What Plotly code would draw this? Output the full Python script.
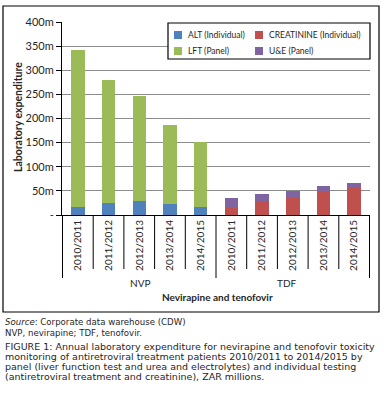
import plotly.graph_objects as go

# ---- data ----
groups = ["NVP", "TDF"]
years = ["2010/2011", "2011/2012", "2012/2013", "2013/2014", "2014/2015"]
alt_ind = [17, 25, 29, 23, 17, None, None, None, None, None]
creatinine_ind = [None, None, None, None, None, 15, 27, 35, 48, 56]
lft_panel = [325, 254, 217, 163, 134, None, None, None, None, None]
ue_panel = [None, None, None, None, None, 20, 17, 15, 12, 11]
y_ticks = [0, 50, 100, 150, 200, 250, 300, 350, 400]
y_ticklabels = ["-", "50m", "100m", "150m", "200m", "250m", "300m", "350m", "400m"]
series_names = ["ALT (Individual)", "CREATININE (Individual)", "LFT (Panel)", "U&E (Panel)"]
series_colors = ["#4F81BD", "#C0504D", "#9BBB59", "#8064A2"]

cats = [f"{g} {y}" for g in groups for y in years]
cat_labels = [y for g in groups for y in years]

# ---- pixel helpers (plot area l=62, r=370, t=22, b=215) ----
L, R, T, B = 62, 370, 22, 215
W, H = R - L, B - T
def fx(px):
    return (px - L) / W
def fy(py):
    return (B - py) / H

FONT = "Lato, 'Open Sans', Arial, sans-serif"
CAPFONT = "'DejaVu Sans', Verdana, sans-serif"
TXT = "#262626"

fig = go.Figure()
for name, vals, col in zip(series_names, [alt_ind, creatinine_ind, lft_panel, ue_panel],
                           series_colors):
    fig.add_trace(go.Bar(x=cats, y=vals, name=name, marker_color=col,
                         marker_line_width=0, showlegend=False))

shapes = []
n = len(cats)
# category separators
for i in range(n + 1):
    long = i in (0, len(years), n)
    shapes.append(dict(type="line", xref="x", yref="paper",
                       x0=i - 0.5, x1=i - 0.5, y0=0, y1=fy(278 if long else 269),
                       line=dict(color="black", width=1)))
# legend box
shapes.append(dict(type="rect", xref="paper", yref="paper",
                   x0=fx(168), x1=fx(370), y0=fy(59), y1=fy(23),
                   line=dict(color="black", width=1.2), fillcolor="white", layer="above"))
# outer frame
shapes.append(dict(type="rect", xref="paper", yref="paper",
                   x0=fx(3), x1=fx(379), y0=fy(312), y1=fy(6),
                   line=dict(color="black", width=1.2), layer="below"))

annotations = [
    dict(text="<b>Laboratory expenditure</b>", x=fx(18), y=fy(117), textangle=-90,
         font=dict(size=10.5, color=TXT)),
    dict(text="NVP", x=fx(140), y=fy(283), font=dict(size=10, color=TXT)),
    dict(text="TDF", x=fx(287), y=fy(283), font=dict(size=10, color=TXT)),
    dict(text="<b>Nevirapine and tenofovir</b>", x=fx(217), y=fy(297),
         font=dict(size=10, color=TXT)),
    dict(text="<i>Source</i>: Corporate data warehouse (CDW)", x=fx(3), y=fy(322),
         xanchor="left", font=dict(size=8.6, family=CAPFONT, color=TXT)),
    dict(text="NVP, nevirapine; TDF, tenofovir.", x=fx(3), y=fy(333),
         xanchor="left", font=dict(size=8.6, family=CAPFONT, color=TXT)),
]
cap_lines = [
    "FIGURE 1: Annual laboratory expenditure for nevirapine and tenofovir toxicity",
    "monitoring of antiretroviral treatment patients 2010/2011 to 2014/2015 by",
    "panel (liver function test and urea and electrolytes) and individual testing",
    "(antiretroviral treatment and creatinine), ZAR millions.",
]
for i, line in enumerate(cap_lines):
    annotations.append(dict(text=line, x=fx(3), y=fy(346 + 10.3 * i), xanchor="left",
                            font=dict(size=9.5, family=CAPFONT, color=TXT)))

# legend (2 x 2) drawn inside the box
leg_pos = [(174, 35), (255, 35), (174, 51), (255, 51)]
for (px, py), name, col in zip(leg_pos, series_names, series_colors):
    shapes.append(dict(type="rect", xref="paper", yref="paper",
                       x0=fx(px), x1=fx(px + 8), y0=fy(py + 4), y1=fy(py - 4),
                       line=dict(width=0), fillcolor=col, layer="above"))
    annotations.append(dict(text=name, x=fx(px + 12), y=fy(py), xanchor="left",
                            font=dict(size=8.5, color=TXT)))

for a in annotations:
    a.setdefault("xref", "paper")
    a.setdefault("yref", "paper")
    a.setdefault("showarrow", False)
    a.setdefault("xanchor", "center")
    a.setdefault("yanchor", "middle")

fig.update_layout(
    width=384, height=408,
    margin=dict(l=L, r=384 - R, t=T, b=408 - B),
    paper_bgcolor="white", plot_bgcolor="white",
    barmode="stack", bargap=0.56,
    font=dict(family=FONT, size=10, color=TXT),
    shapes=shapes, annotations=annotations,
    showlegend=False,
    xaxis=dict(tickvals=cats, ticktext=cat_labels, tickangle=-90, showgrid=False,
               showline=True, linecolor="black", linewidth=1, ticks="",
               tickfont=dict(size=10, color=TXT), fixedrange=True),
    yaxis=dict(range=[0, 400], tickvals=y_ticks, ticktext=y_ticklabels,
               showgrid=True, gridcolor="#8c8c8c", gridwidth=1, showline=True,
               linecolor="black", linewidth=1, ticks="outside", ticklen=5,
               tickcolor="black", tickfont=dict(size=11, color=TXT), zeroline=False),
)

fig.write_html(
    "out.html",
    config={"displayModeBar": False},
    post_script="document.body.style.margin='0';document.body.style.overflow='hidden';",
)
